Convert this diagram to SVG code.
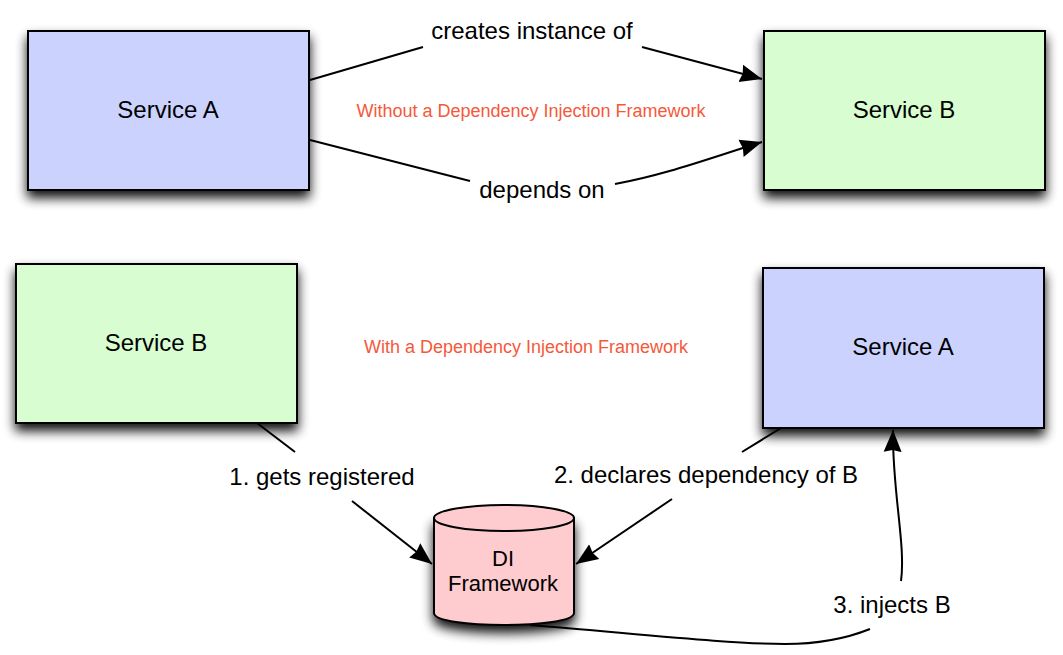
<svg xmlns="http://www.w3.org/2000/svg" width="1063" height="655" viewBox="0 0 1063 655">
<defs>
<filter id="sh" x="-12%" y="-12%" width="124%" height="132%"><feGaussianBlur in="SourceAlpha" stdDeviation="6"/><feOffset dy="7"/><feComponentTransfer><feFuncA type="linear" slope="0.95"/></feComponentTransfer><feMerge><feMergeNode/><feMergeNode in="SourceGraphic"/></feMerge></filter>
<marker id="a" markerUnits="userSpaceOnUse" markerWidth="24" markerHeight="20" refX="22" refY="10" orient="auto" viewBox="0 0 24 20"><path d="M0 1L22 10L0 19L2 10z" fill="#000"/></marker>
</defs>
<style>
.box{stroke:#000;stroke-width:2}
.blue{fill:#cbd2fe}.green{fill:#d7fdd0}
text{font-family:"Liberation Sans",Arial,sans-serif;fill:#000;font-size:24px;text-anchor:middle}
.note{fill:#f5583a;font-size:18px}
.di{font-size:22px}
.c{fill:none;stroke:#000;stroke-width:2}
</style>
<rect width="1063" height="655" fill="#fff"/>
<g id="connectors">
<path class="c" d="M310 80L423 47"/>
<path class="c" d="M642 47L762 79" marker-end="url(#a)"/>
<path class="c" d="M310 140L470 181"/>
<path class="c" d="M615 184C665 175 710 158 762 142" marker-end="url(#a)"/>
<path class="c" d="M257 423L295 452"/>
<path class="c" d="M352 501L432 564" marker-end="url(#a)"/>
<path class="c" d="M781 428L742 452"/>
<path class="c" d="M672 499L576 564" marker-end="url(#a)"/>
<path class="c" d="M530 625C640 634 730 644 785 644C820 644 850 637 870 629"/>
<path class="c" d="M901 581C906 545 892 490 893 430" marker-end="url(#a)"/>
</g>
<g id="service-a-top"><rect class="box blue" x="28" y="31" width="281" height="159" filter="url(#sh)"/><text x="168" y="118">Service A</text></g>
<g id="service-b-top"><rect class="box green" x="764" y="31" width="281" height="159" filter="url(#sh)"/><text x="904" y="118">Service B</text></g>
<g id="service-b-bottom"><rect class="box green" x="16" y="264" width="281" height="159" filter="url(#sh)"/><text x="156" y="351">Service B</text></g>
<g id="service-a-bottom"><rect class="box blue" x="763" y="268" width="281" height="160" filter="url(#sh)"/><text x="903" y="355">Service A</text></g>
<g id="di-framework"><path class="box" fill="#fecccf" d="M434 518V613C434 629 574 629 574 613V518z" filter="url(#sh)"/><ellipse class="box" fill="#fecccf" cx="504" cy="518" rx="70" ry="13"/><text class="di" x="503" y="566">DI</text><text class="di" x="503" y="591">Framework</text></g>
<g id="labels">
<text x="532" y="39">creates instance of</text>
<text x="542" y="198">depends on</text>
<text x="322" y="485">1. gets registered</text>
<text x="706" y="483">2. declares dependency of B</text>
<text x="892" y="613">3. injects B</text>
<text class="note" x="531" y="117">Without a Dependency Injection Framework</text>
<text class="note" x="526" y="353">With a Dependency Injection Framework</text>
</g>
</svg>
